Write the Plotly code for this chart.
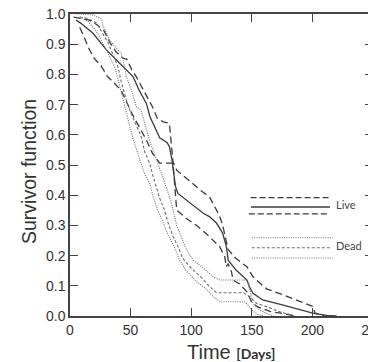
import plotly.graph_objects as go

# ---- data ----
live_mid_t = [5, 9, 19, 30, 41, 52, 57, 63, 66, 71, 74, 80, 82, 84, 85, 87, 89, 96, 104, 110, 115, 121, 126, 129, 130.5, 137, 146, 148, 151, 159, 176, 190, 201, 212, 220]
live_mid_s = [0.98, 0.969, 0.936, 0.881, 0.837, 0.793, 0.748, 0.704, 0.66, 0.616, 0.59, 0.575, 0.561, 0.52, 0.495, 0.43, 0.406, 0.384, 0.362, 0.34, 0.329, 0.307, 0.274, 0.23, 0.185, 0.152, 0.119, 0.097, 0.075, 0.053, 0.036, 0.02, 0.009, 0.002, 0.0]

live_hi_t = [3, 10, 16, 22, 28, 33, 38, 43, 47, 51, 55, 59, 64, 68, 72, 77, 82, 83.6, 85, 88, 96, 104, 109, 115, 119, 123, 126, 128, 130.5, 137, 146, 151, 162, 176, 190, 200.7, 202, 210]
live_hi_s = [0.99, 0.985, 0.98, 0.965, 0.945, 0.905, 0.875, 0.855, 0.85, 0.815, 0.79, 0.76, 0.725, 0.693, 0.655, 0.643, 0.638, 0.572, 0.51, 0.483, 0.456, 0.428, 0.412, 0.395, 0.365, 0.335, 0.30, 0.26, 0.22, 0.19, 0.163, 0.13, 0.09, 0.07, 0.047, 0.031, 0.01, 0.0]

live_lo_t = [8, 11, 15, 20, 26, 31, 38, 42, 46, 51, 57, 63, 68, 74, 85, 86.5, 88, 96, 104, 112, 118, 123.6, 127.7, 129, 130.4, 133.2, 134.5, 140, 146, 150, 155, 165, 180, 186]
live_lo_s = [0.955, 0.93, 0.89, 0.853, 0.826, 0.793, 0.765, 0.748, 0.715, 0.671, 0.627, 0.583, 0.539, 0.506, 0.506, 0.43, 0.351, 0.323, 0.301, 0.274, 0.252, 0.229, 0.196, 0.163, 0.174, 0.147, 0.119, 0.106, 0.08, 0.045, 0.03, 0.015, 0.005, 0.0]

dead_mid_t = [8, 15, 22, 27, 32, 35, 39.5, 42.3, 46.4, 50, 54, 58.8, 61.6, 65.7, 68.4, 71.2, 74, 78.1, 80.8, 84.9, 89.1, 93.2, 98.8, 107, 115.3, 121, 143, 148.3, 153.9, 162.1, 173.1, 185]
dead_mid_s = [0.99, 0.985, 0.97, 0.936, 0.9, 0.87, 0.826, 0.775, 0.715, 0.675, 0.64, 0.594, 0.544, 0.506, 0.465, 0.428, 0.39, 0.35, 0.31, 0.265, 0.23, 0.19, 0.163, 0.133, 0.097, 0.077, 0.077, 0.064, 0.042, 0.031, 0.014, 0.0]

dead_hi_t = [5, 9, 19, 26, 27, 32.6, 39.5, 42.3, 45, 46.4, 50.6, 54.7, 58.8, 62.9, 65.7, 69.8, 73.9, 76.7, 80.8, 83.6, 86.4, 88, 92, 96, 101.5, 109.8, 118, 123.6, 145, 147, 151, 156.6, 162, 168]
dead_hi_s = [1.0, 1.0, 0.997, 0.983, 0.964, 0.914, 0.881, 0.87, 0.826, 0.793, 0.748, 0.693, 0.68, 0.62, 0.58, 0.535, 0.49, 0.455, 0.41, 0.375, 0.33, 0.30, 0.26, 0.22, 0.185, 0.16, 0.13, 0.119, 0.119, 0.11, 0.042, 0.02, 0.009, 0.0]

dead_lo_t = [8, 15, 23, 30, 36.8, 40.5, 43.7, 46.4, 49.2, 52.5, 56, 58.8, 61.6, 65.7, 69, 72.5, 76.7, 80.8, 86, 90.5, 96, 104.3, 112.6, 118, 124, 144, 147, 151, 155, 160]
dead_lo_s = [0.99, 0.975, 0.936, 0.88, 0.826, 0.77, 0.715, 0.671, 0.63, 0.58, 0.539, 0.51, 0.47, 0.44, 0.39, 0.35, 0.31, 0.27, 0.229, 0.185, 0.15, 0.115, 0.088, 0.065, 0.047, 0.047, 0.035, 0.015, 0.005, 0.0]

x_ticks = [0, 50, 100, 150, 200, 250]
x_tick_labels = ["0", "50", "100", "150", "200", "250"]
y_ticks = [0.0, 0.1, 0.2, 0.3, 0.4, 0.5, 0.6, 0.7, 0.8, 0.9, 1.0]
y_tick_labels = ["0.0", "0.1", "0.2", "0.3", "0.4", "0.5", "0.6", "0.7", "0.8", "0.9", "1.0"]

LIVE_C = "#3c3c3c"
DEAD_C = "#6e6e6e"
LONG_DASH = "7px,4px"
SHORT_DASH = "3px,2px"
DOT = "1px,1.3px"

series = [
    (live_hi_t, live_hi_s, LIVE_C, LONG_DASH, 1.3),
    (live_mid_t, live_mid_s, LIVE_C, "solid", 1.3),
    (live_lo_t, live_lo_s, LIVE_C, LONG_DASH, 1.3),
    (dead_hi_t, dead_hi_s, DEAD_C, DOT, 1.1),
    (dead_mid_t, dead_mid_s, DEAD_C, SHORT_DASH, 1.1),
    (dead_lo_t, dead_lo_s, DEAD_C, DOT, 1.1),
]

fig = go.Figure()
for t, s, c, d, w in series:
    fig.add_trace(go.Scatter(x=t, y=s, mode="lines",
                             line=dict(color=c, dash=d, width=w),
                             showlegend=False, hoverinfo="skip"))

# hand-drawn style key inside the plot (paper coordinates)
key = [
    (0.596, 0.860, 0.392, LIVE_C, "6px,3px", 1.3),
    (0.597, 0.858, 0.361, LIVE_C, "solid", 1.3),
    (0.590, 0.855, 0.338, LIVE_C, "6px,3px", 1.3),
    (0.600, 0.868, 0.259, DEAD_C, DOT, 1.1),
    (0.600, 0.858, 0.226, DEAD_C, SHORT_DASH, 1.1),
    (0.600, 0.868, 0.192, DEAD_C, DOT, 1.1),
]
for x0, x1, y, c, d, w in key:
    fig.add_shape(type="line", xref="paper", yref="paper", x0=x0, x1=x1, y0=y, y1=y,
                  line=dict(color=c, dash=d, width=w))

fig.add_annotation(xref="paper", yref="paper", x=0.872, y=0.368, text="Live",
                   showarrow=False, xanchor="left", yanchor="middle",
                   font=dict(family="Lato", size=11, color="#444"))
fig.add_annotation(xref="paper", yref="paper", x=0.872, y=0.235, text="Dead",
                   showarrow=False, xanchor="left", yanchor="middle",
                   font=dict(family="Lato", size=11, color="#444"))

# axis titles
fig.add_annotation(xref="paper", yref="paper", x=0.53, y=-0.118,
                   text="Time <b><span style='font-size:14px;font-family:Lato'>[Days]</span></b>",
                   showarrow=False, xanchor="center", yanchor="middle",
                   font=dict(family="Liberation Sans", size=20, color="#333"))
fig.add_annotation(xref="paper", yref="paper", x=-0.135, y=0.477,
                   text="Survivor function", textangle=-90,
                   showarrow=False, xanchor="center", yanchor="middle",
                   font=dict(family="Liberation Sans", size=19.5, color="#333"))

axis_common = dict(showline=True, linecolor="#444", linewidth=1.5, mirror="ticks",
                   ticks="inside", ticklen=8, tickwidth=1.3, tickcolor="#444",
                   showgrid=False, zeroline=False, automargin=False,
                   ticklabeloverflow="allow",
                   tickfont=dict(family="Liberation Sans", size=14, color="#333"))

fig.update_xaxes(range=[0, 250], tickvals=x_ticks, ticktext=x_tick_labels, **axis_common)
fig.update_yaxes(range=[0, 1], tickvals=y_ticks, ticktext=y_tick_labels, **axis_common)

# page has an 8px body margin; offsets compensate so the plot lands where the reference has it
fig.update_layout(width=376, height=362, margin=dict(l=62, r=11, t=6, b=54),
                  plot_bgcolor="white", paper_bgcolor="white")

fig.write_html("out.html")
